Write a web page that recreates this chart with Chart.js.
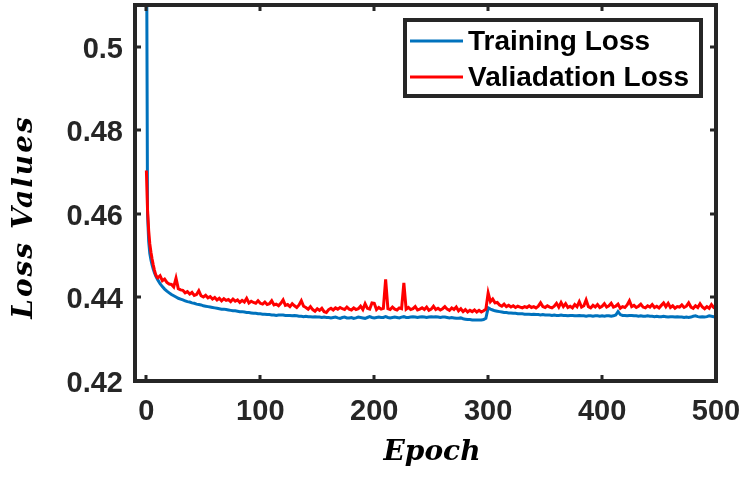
<!DOCTYPE html>
<html><head><meta charset="utf-8">
<script src="https://cdn.jsdelivr.net/npm/chart.js@4"></script>
<style>html,body{margin:0;padding:0;background:#fff;overflow:hidden}</style>
</head><body>
<canvas id="c" width="745" height="477"></canvas>
<script>
const epochs = [
 0,1,2,3,4,5,6,7,8,9,10,
 12,14,16,18,20,22,24,26,28,30,
 32,34,36,38,40,42,44,46,48,50,
 52,54,56,58,60,62,64,66,68,70,
 72,74,76,78,80,82,84,86,88,90,
 92,94,96,98,100,102,104,106,108,110,
 112,114,116,118,120,122,124,126,128,130,
 132,134,136,138,140,142,144,146,148,150,
 152,154,156,158,160,162,164,166,168,170,
 172,174,176,178,180,182,184,186,188,190,
 192,194,196,198,200,202,204,206,208,210,
 212,214,216,218,220,222,224,226,228,230,
 232,234,236,238,240,242,244,246,248,250,
 252,254,256,258,260,262,264,266,268,270,
 272,274,276,278,280,282,284,286,288,290,
 292,294,296,298,300,302,304,306,308,310,
 312,314,316,318,320,322,324,326,328,330,
 332,334,336,338,340,342,344,346,348,350,
 352,354,356,358,360,362,364,366,368,370,
 372,374,376,378,380,382,384,386,388,390,
 392,394,396,398,400,402,404,406,408,410,
 412,414,416,418,420,422,424,426,428,430,
 432,434,436,438,440,442,444,446,448,450,
 452,454,456,458,460,462,464,466,468,470,
 472,474,476,478,480,482,484,486,488,490,
 492,494,496,498,500
];
const trainingLoss = [
 0.5400,0.4600,0.4535,0.4505,0.4490,0.4478,0.4468,0.4460,0.4453,0.4447,0.4442,
 0.4433,0.4426,0.4420,0.4415,0.4411,0.4407,0.4404,0.4401,0.4398,0.4396,
 0.4394,0.4392,0.4390,0.4389,0.4387,0.4386,0.4384,0.4383,0.4382,0.4380,
 0.4379,0.4378,0.4377,0.4376,0.4375,0.4374,0.4373,0.4372,0.4372,0.4371,
 0.4370,0.4369,0.4368,0.4368,0.4367,0.4366,0.4366,0.4365,0.4364,0.4364,
 0.4363,0.4362,0.4362,0.4361,0.4361,0.4360,0.4360,0.4359,0.4359,0.4358,
 0.4358,0.4357,0.4358,0.4358,0.4358,0.4357,0.4357,0.4357,0.4356,0.4357,
 0.4356,0.4355,0.4355,0.4354,0.4355,0.4354,0.4354,0.4353,0.4354,0.4353,
 0.4353,0.4352,0.4353,0.4352,0.4352,0.4351,0.4352,0.4353,0.4351,0.4350,
 0.4352,0.4353,0.4351,0.4351,0.4352,0.4350,0.4351,0.4353,0.4352,0.4351,
 0.4350,0.4352,0.4354,0.4352,0.4351,0.4352,0.4353,0.4352,0.4352,0.4354,
 0.4352,0.4351,0.4352,0.4353,0.4352,0.4351,0.4353,0.4354,0.4352,0.4352,
 0.4353,0.4354,0.4353,0.4352,0.4353,0.4354,0.4353,0.4352,0.4353,0.4354,
 0.4353,0.4354,0.4353,0.4352,0.4353,0.4353,0.4352,0.4351,0.4352,0.4351,
 0.4350,0.4350,0.4351,0.4349,0.4348,0.4347,0.4347,0.4346,0.4346,0.4346,
 0.4346,0.4346,0.4347,0.4350,0.4375,0.4372,0.4370,0.4368,0.4367,0.4366,
 0.4365,0.4364,0.4364,0.4363,0.4363,0.4362,0.4362,0.4361,0.4361,0.4361,
 0.4360,0.4360,0.4360,0.4359,0.4360,0.4359,0.4359,0.4358,0.4359,0.4358,
 0.4358,0.4358,0.4357,0.4358,0.4357,0.4357,0.4358,0.4357,0.4357,0.4356,
 0.4357,0.4357,0.4356,0.4356,0.4357,0.4356,0.4356,0.4355,0.4356,0.4356,
 0.4355,0.4356,0.4356,0.4355,0.4356,0.4355,0.4356,0.4356,0.4355,0.4356,
 0.4358,0.4366,0.4359,0.4357,0.4357,0.4356,0.4357,0.4357,0.4356,0.4356,
 0.4355,0.4356,0.4355,0.4355,0.4356,0.4355,0.4355,0.4354,0.4355,0.4354,
 0.4354,0.4355,0.4354,0.4353,0.4354,0.4354,0.4353,0.4354,0.4353,0.4353,
 0.4352,0.4353,0.4352,0.4353,0.4355,0.4356,0.4354,0.4353,0.4354,0.4353,
 0.4354,0.4356,0.4355,0.4354,0.4352
];
const validationLoss = [
 0.4704,0.4610,0.4560,0.4528,0.4508,0.4492,0.4478,0.4466,0.4456,0.4450,0.4447,
 0.4452,0.4440,0.4444,0.4436,0.4432,0.4431,0.4425,0.4446,0.4421,0.4418,
 0.4417,0.4411,0.4414,0.4408,0.4412,0.4405,0.4407,0.4416,0.4404,0.4401,
 0.4405,0.4399,0.4402,0.4396,0.4400,0.4394,0.4398,0.4392,0.4397,0.4393,
 0.4395,0.4390,0.4396,0.4391,0.4394,0.4388,0.4393,0.4389,0.4398,0.4387,
 0.4391,0.4388,0.4386,0.4392,0.4386,0.4384,0.4389,0.4383,0.4385,0.4392,
 0.4382,0.4384,0.4380,0.4386,0.4394,0.4381,0.4383,0.4378,0.4385,0.4380,
 0.4376,0.4382,0.4392,0.4379,0.4376,0.4372,0.4378,0.4371,0.4367,0.4373,
 0.4369,0.4374,0.4366,0.4364,0.4371,0.4374,0.4370,0.4375,0.4372,0.4376,
 0.4373,0.4371,0.4377,0.4372,0.4370,0.4375,0.4371,0.4373,0.4379,0.4371,
 0.4385,0.4374,0.4372,0.4387,0.4386,0.4371,0.4376,0.4372,0.4374,0.4443,
 0.4373,0.4371,0.4377,0.4372,0.4370,0.4375,0.4373,0.4435,0.4372,0.4376,
 0.4371,0.4373,0.4378,0.4370,0.4372,0.4375,0.4371,0.4377,0.4369,0.4372,
 0.4379,0.4371,0.4374,0.4370,0.4373,0.4378,0.4372,0.4369,0.4375,0.4371,
 0.4377,0.4368,0.4373,0.4366,0.4371,0.4365,0.4369,0.4366,0.4370,0.4365,
 0.4369,0.4365,0.4368,0.4372,0.4411,0.4390,0.4396,0.4387,0.4388,0.4382,
 0.4379,0.4384,0.4378,0.4381,0.4377,0.4380,0.4376,0.4379,0.4377,0.4375,
 0.4378,0.4376,0.4380,0.4376,0.4378,0.4375,0.4379,0.4387,0.4378,0.4376,
 0.4380,0.4377,0.4375,0.4379,0.4386,0.4377,0.4388,0.4378,0.4385,0.4376,
 0.4379,0.4375,0.4383,0.4378,0.4390,0.4377,0.4380,0.4394,0.4378,0.4375,
 0.4381,0.4377,0.4383,0.4376,0.4379,0.4385,0.4377,0.4380,0.4386,0.4377,
 0.4379,0.4384,0.4374,0.4378,0.4376,0.4382,0.4392,0.4378,0.4381,0.4376,
 0.4379,0.4384,0.4377,0.4375,0.4380,0.4377,0.4383,0.4376,0.4379,0.4375,
 0.4381,0.4387,0.4378,0.4386,0.4376,0.4380,0.4374,0.4378,0.4377,0.4382,
 0.4376,0.4379,0.4387,0.4377,0.4374,0.4380,0.4376,0.4385,0.4377,0.4373,
 0.4378,0.4374,0.4383,0.4376,0.4378
];
const xTickValues = [0, 100, 200, 300, 400, 500];
const yTickValues = [0.42, 0.44, 0.46, 0.48, 0.5];
const seriesNames = ['Training Loss', 'Valiadation Loss'];
const xTitle = 'Epoch';
const yTitle = 'Loss Values';

const AXIS = '#262626';
const TICK_FONT = {family: '"Liberation Sans", Arial, sans-serif', size: 29, weight: 'bold'};

const framePlugin = {
  id: 'frame',
  afterDatasetsDraw(chart) {
    const {ctx, chartArea: a, scales: {x, y}} = chart;
    ctx.save();
    // inner tick marks on all four sides
    ctx.strokeStyle = AXIS;
    ctx.lineWidth = 3;
    const tl = 6;
    ctx.beginPath();
    xTickValues.forEach(v => {
      const px = Math.round(x.getPixelForValue(v));
      ctx.moveTo(px, a.bottom); ctx.lineTo(px, a.bottom - tl);
      ctx.moveTo(px, a.top); ctx.lineTo(px, a.top + tl);
    });
    yTickValues.forEach(v => {
      const py = Math.round(y.getPixelForValue(v));
      ctx.moveTo(a.left, py); ctx.lineTo(a.left + tl, py);
      ctx.moveTo(a.right, py); ctx.lineTo(a.right - tl, py);
    });
    ctx.stroke();
    // axes box
    ctx.lineWidth = 4;
    ctx.strokeRect(a.left, a.top, a.right - a.left, a.bottom - a.top);

    // legend box
    const lx = 405, ly = 20, lw = 296, lh = 76;
    ctx.fillStyle = '#fff';
    ctx.fillRect(lx, ly, lw, lh);
    ctx.strokeStyle = AXIS;
    ctx.lineWidth = 4;
    ctx.strokeRect(lx, ly, lw, lh);
    ctx.font = 'bold 28px "Liberation Sans", Arial, sans-serif';
    ctx.textBaseline = 'middle';
    ctx.textAlign = 'left';
    chart.data.datasets.forEach((ds, i) => {
      const rowY = ly + 21 + i * 36;
      ctx.strokeStyle = ds.borderColor;
      ctx.lineWidth = 3;
      ctx.beginPath();
      ctx.moveTo(lx + 5, rowY); ctx.lineTo(lx + 58, rowY);
      ctx.stroke();
      ctx.fillStyle = '#000';
      ctx.fillText(ds.label, lx + 63, rowY + 1);
    });
    ctx.restore();
  },
  afterDraw(chart) {
    const {ctx} = chart;
    ctx.save();
    ctx.fillStyle = '#000';
    ctx.font = 'italic bold 28px "DejaVu Serif", serif';
    ctx.textAlign = 'center';
    ctx.textBaseline = 'middle';
    ctx.fillText(xTitle, 432, 453);
    ctx.translate(25, 217);
    ctx.rotate(-Math.PI / 2);
    ctx.letterSpacing = '2px';
    ctx.fillText(yTitle, 0, 0);
    ctx.restore();
  }
};

new Chart(document.getElementById('c'), {
  type: 'line',
  data: {
    datasets: [
      {
        label: seriesNames[0],
        data: epochs.map((e, i) => ({x: e, y: trainingLoss[i]})),
        borderColor: '#0072BD',
        borderWidth: 3,
        pointRadius: 0,
        tension: 0,
        order: 1,
        clip: 0
      },
      {
        label: seriesNames[1],
        data: epochs.map((e, i) => ({x: e, y: validationLoss[i]})),
        borderColor: '#FF0000',
        borderWidth: 3,
        pointRadius: 0,
        tension: 0,
        order: 0,
        clip: 0
      }
    ]
  },
  options: {
    responsive: false,
    animation: false,
    devicePixelRatio: 1,
    layout: {padding: {top: 5, right: 29, left: 0, bottom: 0}},
    plugins: {legend: {display: false}, tooltip: {enabled: false}},
    scales: {
      x: {
        type: 'linear',
        min: -10, max: 500,
        afterBuildTicks: s => { s.ticks = xTickValues.map(v => ({value: v})); },
        afterFit: s => { s.height = 96; s.paddingLeft = 0; s.paddingRight = 0; s.paddingTop = 0; s.paddingBottom = 0; },
        grid: {display: false, drawTicks: false},
        border: {display: false},
        ticks: {font: TICK_FONT, color: AXIS, padding: 14, maxRotation: 0, autoSkip: false,
                callback: v => String(v)}
      },
      y: {
        type: 'linear',
        min: 0.42, max: 0.51,
        afterBuildTicks: s => { s.ticks = yTickValues.map(v => ({value: v})); },
        afterFit: s => { s.width = 135; s.paddingLeft = 0; s.paddingRight = 0; s.paddingTop = 0; s.paddingBottom = 0; },
        grid: {display: false, drawTicks: false},
        border: {display: false},
        ticks: {font: TICK_FONT, color: AXIS, padding: 12, labelOffset: 3,
                callback: v => String(Number(v.toFixed(2)))}
      }
    }
  },
  plugins: [framePlugin]
});
</script>
</body></html>
